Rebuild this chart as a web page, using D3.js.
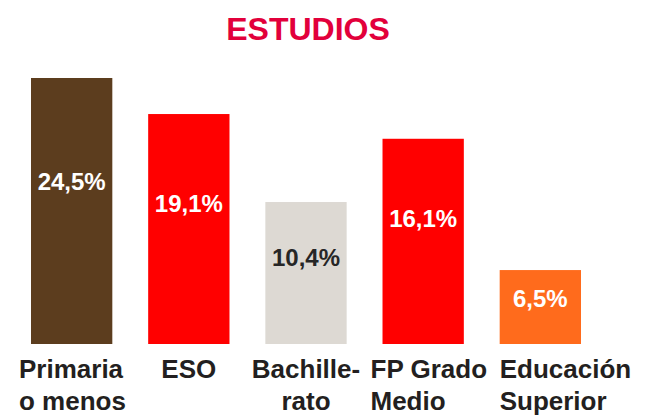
<!DOCTYPE html>
<html>
<head>
<meta charset="utf-8">
<script src="https://cdn.jsdelivr.net/npm/d3@7"></script>
<style>
  body { margin: 0; background: #fff; }
  text { font-family: "Liberation Sans", Arial, sans-serif; font-weight: bold; }
</style>
</head>
<body>
<svg></svg>
<script>
const categories = [
    ["Primaria", "o menos"],
    ["ESO"],
    ["Bachille-", "rato"],
    ["FP Grado", "Medio"],
    ["Educación", "Superior"]
];
const values = [24.5, 19.1, 10.4, 16.1, 6.5];
const valueLabels = ["24,5%", "19,1%", "10,4%", "16,1%", "6,5%"];
const barColors = ["#5c3d1e", "#ff0000", "#ddd9d3", "#ff0000", "#ff6b1c"];
const labelColors = ["#ffffff", "#ffffff", "#262626", "#ffffff", "#ffffff"];

const width = 651;
const height = 416;
const baseline = 344;

const svg = d3.select('svg')
    .attr('width', width)
    .attr('height', height);

// title
svg.append('text')
    .attr('x', 308)
    .attr('y', 40)
    .attr('text-anchor', 'middle')
    .attr('fill', '#e2003b')
    .style('font-size', '32px')
    .text('ESTUDIOS');

const keys = categories.map((c) => c.join(' '));

const xScale = d3.scaleBand()
    .domain(keys)
    .range([31, 581])
    .paddingInner(0.306)
    .paddingOuter(0);

// the bars in the picture follow a log-like scale rather than a linear one
const yScale = d3.scaleLog()
    .domain([3.9, 24.5])
    .range([baseline, 78]);

const bars = svg.selectAll('g.bar')
    .data(values)
    .enter()
    .append('g')
    .attr('class', 'bar');

bars.append('rect')
    .attr('x', (d, i) => xScale(keys[i]))
    .attr('y', (d) => yScale(d))
    .attr('width', xScale.bandwidth())
    .attr('height', (d) => baseline - yScale(d))
    .attr('fill', (d, i) => barColors[i]);

bars.append('text')
    .attr('x', (d, i) => xScale(keys[i]) + xScale.bandwidth() / 2)
    .attr('y', (d) => yScale(d) + 0.39 * (baseline - yScale(d)) + 8.5)
    .attr('text-anchor', 'middle')
    .attr('fill', (d, i) => labelColors[i])
    .style('font-size', '24px')
    .text((d, i) => valueLabels[i]);

// category labels under the bars
categories.forEach((lines, i) => {
    const barX = xScale(keys[i]);
    const cx = barX + xScale.bandwidth() / 2;
    const t = svg.append('text')
        .attr('fill', '#231f20')
        .style('font-size', '26px');
    lines.forEach((line, j) => {
        t.append('tspan')
            .attr('y', 378 + j * 32)
            .text(line);
    });
    const hyphenated = lines[0].endsWith('-');
    if (hyphenated || lines.length === 1) {
        t.selectAll('tspan').attr('x', cx).attr('text-anchor', 'middle');
    } else {
        const left = i === categories.length - 1 ? barX : barX - 12;
        t.selectAll('tspan').attr('x', Math.max(16, left));
    }
});
</script>
</body>
</html>
